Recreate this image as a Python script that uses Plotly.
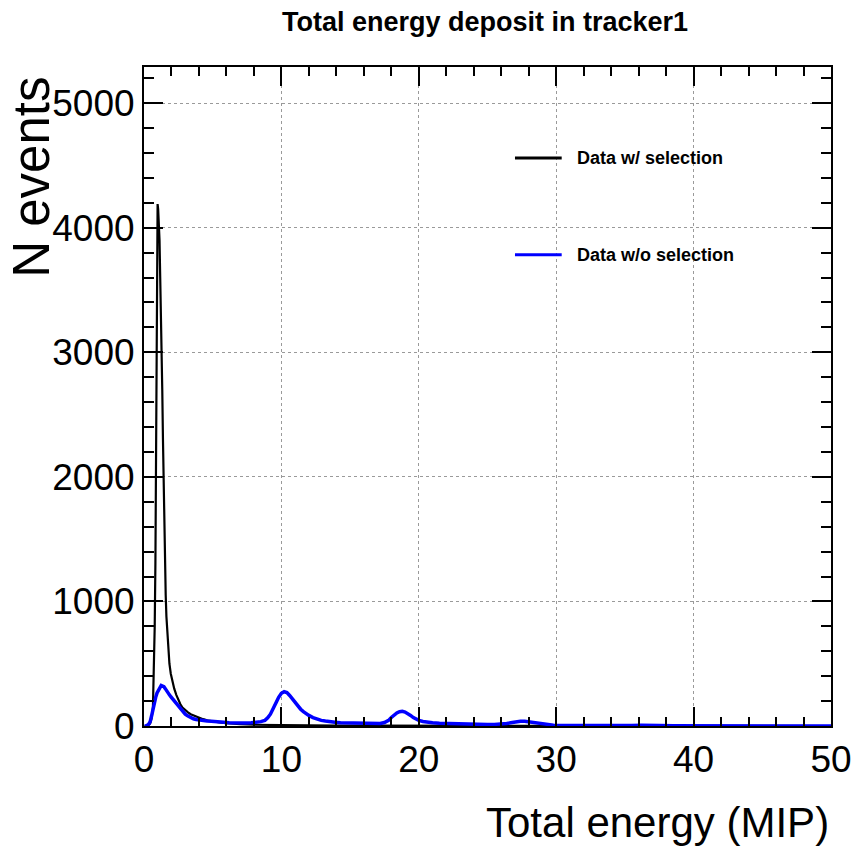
import plotly.graph_objects as go

# ---- data ----
black_x = [0.05, 0.15, 0.25, 0.35, 0.45, 0.55, 0.65, 0.72, 0.78, 0.83, 0.87, 0.91, 0.95, 0.99,
           1.03, 1.08, 1.13, 1.18, 1.23, 1.28, 1.33, 1.38, 1.43, 1.48, 1.53, 1.58, 1.63, 1.70,
           1.77, 1.85, 1.95, 2.05, 2.20, 2.35, 2.50, 2.65, 2.80, 3.00, 3.20, 3.40, 3.60, 3.80,
           4.00, 4.30, 4.60, 5.00, 5.50, 6.00, 6.50, 7.00, 8.00, 9.00, 10.0, 11.0, 12.0, 14.0,
           16.0, 18.0, 20.0, 25.0, 30.0, 35.0, 40.0, 45.0, 50.0]
black_y = [0, 2, 5, 10, 20, 60, 150, 400, 800, 1300, 2200, 3100, 3800, 4190,
           4150, 4050, 3900, 3600, 3350, 3050, 2700, 2300, 1900, 1550, 1250, 1050, 880, 720,
           600, 500, 420, 370, 300, 250, 210, 175, 148, 125, 110, 95, 85, 75,
           65, 55, 45, 36, 28, 22, 17, 14, 10, 8, 7, 6, 5, 4,
           3, 3, 2, 2, 1, 1, 0, 0, 0]

blue_x = [0.05, 0.2, 0.35, 0.45, 0.55, 0.65, 0.75, 0.85, 0.95, 1.05, 1.15, 1.25, 1.35, 1.45,
          1.55, 1.65, 1.75, 1.85, 1.95, 2.1, 2.25, 2.4, 2.55, 2.7, 2.85, 3.0, 3.2, 3.4, 3.6,
          3.8, 4.0, 4.3, 4.6, 4.9, 5.2, 5.5, 5.8, 6.2, 6.6, 7.0, 7.4, 7.8, 8.2, 8.5, 8.8, 9.0,
          9.2, 9.4, 9.6, 9.8, 10.0, 10.2, 10.4, 10.6, 10.8, 11.0, 11.2, 11.4, 11.6, 11.8, 12.0,
          12.3, 12.6, 12.9, 13.2, 13.5, 13.9, 14.3, 14.8, 15.3, 15.8, 16.3, 16.8, 17.2, 17.5,
          17.8, 18.0, 18.2, 18.4, 18.6, 18.8, 19.0, 19.2, 19.4, 19.6, 19.8, 20.0, 20.3, 20.6,
          21.0, 21.5, 22.0, 22.5, 23.0, 23.5, 24.0, 24.5, 25.0, 25.5, 26.0, 26.4, 26.8, 27.1,
          27.4, 27.7, 28.0, 28.3, 28.6, 29.0, 29.4, 29.8, 30.5, 31.5, 32.5, 33.5, 34.5, 35.5,
          36.2, 36.6, 37.0, 37.5, 38.5, 40.0, 42.0, 44.0, 46.0, 48.0, 50.0]
blue_y = [0, 2, 15, 35, 80, 140, 190, 230, 265, 290, 310, 325, 320, 315,
          300, 280, 265, 250, 235, 215, 190, 165, 145, 125, 108, 95, 80, 68, 58,
          52, 48, 42, 40, 38, 33, 30, 30, 27, 25, 24, 24, 26, 28, 35, 45, 65,
          95, 135, 185, 230, 262, 275, 268, 245, 215, 185, 160, 135, 115, 98, 85,
          68, 55, 45, 40, 34, 30, 27, 25, 22, 20, 18, 18, 20, 28,
          45, 68, 90, 105, 115, 118, 112, 100, 85, 68, 55, 45, 36, 30,
          26, 22, 20, 18, 16, 15, 13, 12, 12, 13, 15, 20, 28, 35,
          38, 38, 34, 28, 22, 16, 10, 7, 4, 3, 2, 2, 3, 4,
          7, 8, 7, 4, 2, 1, 1, 0, 0, 0, 0]

series_names = ["Data w/ selection", "Data w/o selection"]
x_ticks = [0, 10, 20, 30, 40, 50]
y_ticks = [0, 1000, 2000, 3000, 4000, 5000]

FONT = "Liberation Sans, Arial, Helvetica, sans-serif"

fig = go.Figure()
fig.add_trace(go.Scatter(x=black_x, y=black_y, mode="lines", name=series_names[0],
                         line=dict(color="#000000", width=2.2), showlegend=False))
fig.add_trace(go.Scatter(x=blue_x, y=blue_y, mode="lines", name=series_names[1],
                         line=dict(color="#0000ff", width=3.5), showlegend=False))

axis_common = dict(
    showline=True, linecolor="black", linewidth=2, mirror="ticks",
    ticks="inside", ticklen=19, tickwidth=2, tickcolor="black",
    showgrid=True, gridcolor="#9a9a9a", griddash="dot", gridwidth=1,
    zeroline=False, automargin=False,
    tickfont=dict(family=FONT, size=37, color="black"),
)

fig.update_xaxes(range=[0, 50], tickmode="array", tickvals=x_ticks,
                 ticktext=[str(v) for v in x_ticks],
                 minor=dict(dtick=2, ticks="inside", ticklen=9, tickwidth=2,
                            tickcolor="black", showgrid=False),
                 **axis_common)
fig.update_yaxes(range=[0, 5290], tickmode="array", tickvals=y_ticks,
                 ticktext=[str(v) for v in y_ticks],
                 minor=dict(dtick=200, ticks="inside", ticklen=10, tickwidth=2,
                            tickcolor="black", showgrid=False),
                 **axis_common)

annotations = [
    dict(text="<b>Total energy deposit in tracker1</b>", xref="paper", yref="paper",
         x=0.496, y=1.068, xanchor="center", yanchor="middle", showarrow=False,
         font=dict(family=FONT, size=27, color="black")),
    dict(text="Total energy (MIP)", xref="paper", yref="paper",
         x=1.0, y=-0.147, xanchor="right", yanchor="middle", showarrow=False,
         font=dict(family=FONT, size=42, color="black")),
    dict(text="N events", xref="paper", yref="paper", textangle=-90,
         x=-0.164, y=0.988, xanchor="center", yanchor="top", showarrow=False,
         font=dict(family=FONT, size=51, color="black")),
    dict(text="<b>" + series_names[0] + "</b>", xref="paper", yref="paper",
         x=0.627, y=0.862, xanchor="left", yanchor="middle", showarrow=False,
         font=dict(family=FONT, size=18, color="black")),
    dict(text="<b>" + series_names[1] + "</b>", xref="paper", yref="paper",
         x=0.627, y=0.715, xanchor="left", yanchor="middle", showarrow=False,
         font=dict(family=FONT, size=18, color="black")),
]
shapes = [
    dict(type="line", xref="paper", yref="paper", x0=0.540, x1=0.608, y0=0.862, y1=0.862,
         line=dict(color="#000000", width=3)),
    dict(type="line", xref="paper", yref="paper", x0=0.540, x1=0.608, y0=0.715, y1=0.715,
         line=dict(color="#0000ff", width=3)),
]

fig.update_layout(
    width=854, height=854,
    margin=dict(l=144, r=23, t=67, b=128, autoexpand=False),
    paper_bgcolor="white", plot_bgcolor="white",
    showlegend=False,
    annotations=annotations, shapes=shapes,
)

fig.write_html("out.html")
